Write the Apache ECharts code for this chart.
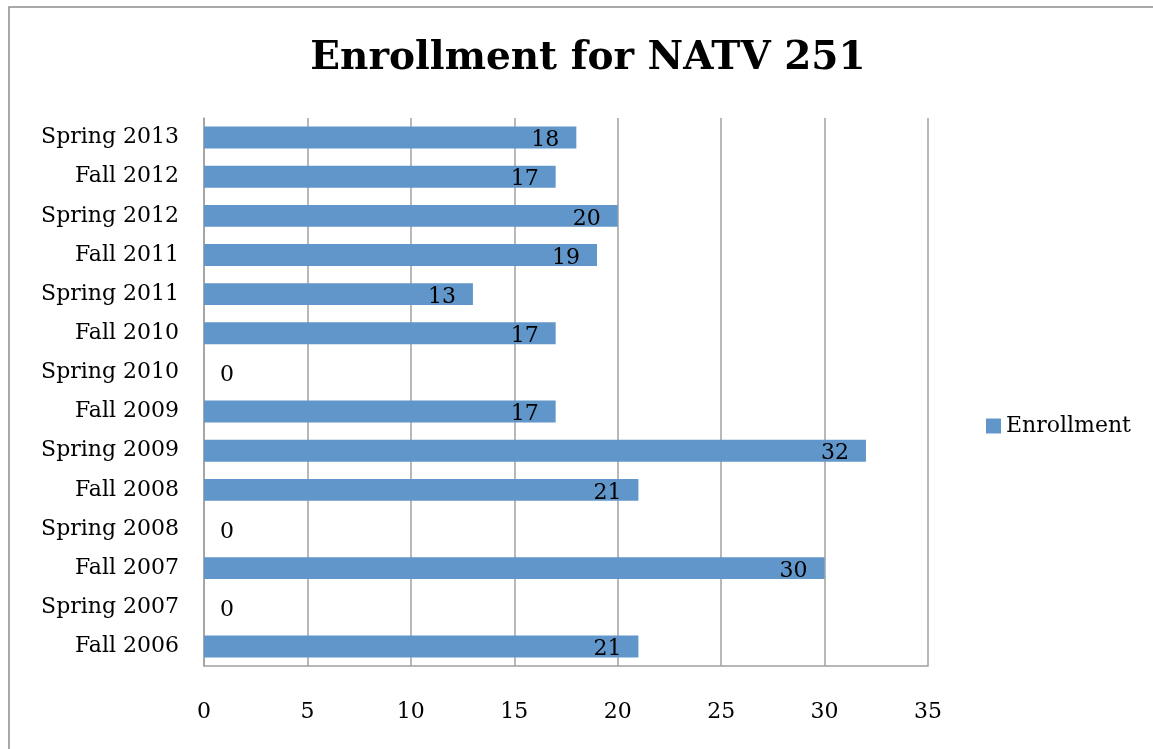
<!DOCTYPE html>
<html><head><meta charset="utf-8">
<script src="https://cdn.jsdelivr.net/npm/echarts@6/dist/echarts.min.js"></script>
<style>html,body{margin:0;padding:0;background:#fff}#c{width:1153px;height:749px}</style>
</head><body><div id="c"></div>
<script>
const categories = ["Fall 2006","Spring 2007","Fall 2007","Spring 2008","Fall 2008","Spring 2009","Fall 2009","Spring 2010","Fall 2010","Spring 2011","Fall 2011","Spring 2012","Fall 2012","Spring 2013"];
const enrollment = [21,0,30,0,21,32,17,0,17,13,19,20,17,18];
const xTicks = [0,5,10,15,20,25,30,35];

const FONT = '"DejaVu Serif", "Liberation Serif", serif';
const chart = echarts.init(document.getElementById('c'));
chart.setOption({
  animation:false,
  backgroundColor:'#fff',
  title:{text:'Enrollment for NATV 251',left:583,top:34,textAlign:'center',
    textStyle:{fontFamily:FONT,fontWeight:'bold',fontSize:39,color:'#000'}},
  graphic:[{type:'rect',shape:{x:9,y:7,width:1170,height:780},style:{fill:'none',stroke:'#8c8c8c',lineWidth:1.5}}],
  legend:{show:true,left:981,top:410,itemWidth:15,itemHeight:15,itemGap:7,icon:'rect',
    textStyle:{fontFamily:FONT,fontSize:22,color:'#000'},data:['Enrollment']},
  grid:{left:204,right:225,top:118,bottom:83,containLabel:false},
  xAxis:{type:'value',min:0,max:35,interval:5,
    axisLine:{show:true,lineStyle:{color:'#a0a0a0',width:1.5}},
    axisTick:{show:false},
    splitLine:{show:true,lineStyle:{color:'#a0a0a0',width:1.5}},
    axisLabel:{margin:35,fontFamily:FONT,fontSize:22,color:'#000',
      formatter:v=>xTicks.includes(v)?String(v):''}},
  yAxis:{type:'category',data:categories,
    axisLine:{show:true,lineStyle:{color:'#a0a0a0',width:1.5}},
    axisTick:{show:false},
    axisLabel:{margin:25,fontFamily:FONT,fontSize:22,color:'#000'}},
  series:[{name:'Enrollment',type:'bar',barCategoryGap:'44%',
    itemStyle:{color:'#6096c9'},
    data:enrollment.map(v=>({value:v,label:v===0?{position:'right',distance:16}:{}})),
    label:{show:true,position:'insideRight',distance:17,offset:[0,3],fontFamily:FONT,fontSize:22,color:'#000'}}]
});
</script></body></html>
